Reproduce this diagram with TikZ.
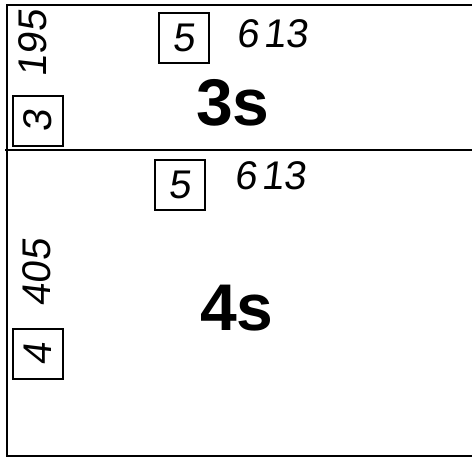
\documentclass[tikz,border=0pt]{standalone}
\usepackage{fontspec}
\setmainfont{Liberation Sans}
\newfontfamily\handfont[FakeSlant=0.12]{Liberation Sans}
\begin{document}
\begin{tikzpicture}[x=1pt,y=-1pt,
  hand/.style={font=\handfont\fontsize{40}{40}\selectfont,inner sep=0pt},
  numbox/.style={hand,draw,line width=1.4pt,minimum width=50pt,minimum height=50pt},
  orbital/.style={font=\bfseries\fontsize{66}{66}\selectfont,inner sep=0pt}]
\useasboundingbox (0,0) rectangle (472,459);

% Frame: open on the right side.
\draw[line width=2pt] (472,5) -- (7,5) -- (7,456) -- (472,456);
\draw[line width=2pt] (5,150) -- (472,150);

% Upper shell.
\node[hand,rotate=90] (n195) at (33,44) {195};
\node[numbox,rotate=90] (box3) at (38,121) {3};
\node[numbox] (box5a) at (184,38) {5};
\node[hand] (n613a) at (272,34) {6\kern5pt13};
\node[orbital] (s3) at (233,103) {3s};

% Lower shell.
\node[hand,rotate=90] (n405) at (37,273) {405};
\node[numbox,rotate=90] (box4) at (38,354) {4};
\node[numbox] (box5b) at (180,185) {5};
\node[hand] (n613b) at (270,176) {6\kern5pt13};
\node[orbital] (s4) at (237,308) {4s};
\end{tikzpicture}
\end{document}
